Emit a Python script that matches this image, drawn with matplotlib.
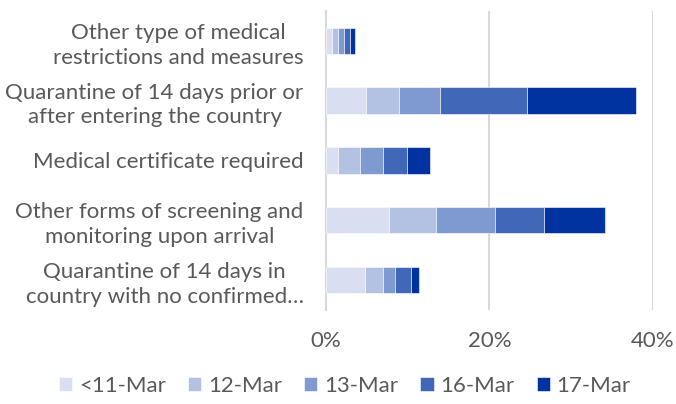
import matplotlib
matplotlib.use("Agg")
import matplotlib.pyplot as plt
import numpy as np

# Du lieu doc tu hinh (% so quoc gia)
categories = [
    "Other type of medical\nrestrictions and measures",
    "Quarantine of 14 days prior or\nafter entering the country",
    "Medical certificate required",
    "Other forms of screening and\nmonitoring upon arrival",
    "Quarantine of 14 days in\ncountry with no confirmed\u2026",
]
series_names = ["<11-Mar", "12-Mar", "13-Mar", "16-Mar", "17-Mar"]
v_11mar = [0.7, 4.9, 1.5, 7.7, 4.8]
v_12mar = [0.8, 4.1, 2.7, 5.8, 2.2]
v_13mar = [0.7, 4.9, 2.8, 7.2, 1.5]
v_16mar = [0.7, 10.7, 2.9, 6.0, 1.9]
v_17mar = [0.7, 13.3, 2.8, 7.4, 1.0]
colors = ["#D9DFF1", "#B3C2E3", "#7F9AD1", "#4067B8", "#0033A0"]

plt.rcParams["font.family"] = ["Lato", "DejaVu Sans"]
grey = "#595959"
fs = 16

fig = plt.figure(figsize=(6.76, 4.04), dpi=100)
ax = fig.add_axes([0.482, 0.233, 0.484, 0.740])

y = np.arange(len(categories))
left = np.zeros(len(categories))
for name, vals, col in zip(series_names,
                           [v_11mar, v_12mar, v_13mar, v_16mar, v_17mar], colors):
    ax.barh(y, vals, left=left, height=0.44, color=col, label=name,
            edgecolor="white", linewidth=0.4, zorder=3)
    left += np.array(vals)

ax.set_ylim(len(categories) - 0.5, -0.5)
ax.set_xlim(0, 40)
ax.set_xticks([0, 20, 40])
ax.set_xticklabels(["0%", "20%", "40%"])
ax.set_yticks(y)
ax.set_yticklabels(categories, ha="right", multialignment="center", linespacing=1.3)
ax.tick_params(axis="y", length=0, pad=16, labelsize=fs, labelcolor=grey)
ax.tick_params(axis="x", length=0, pad=15, labelsize=fs, labelcolor=grey)

for s in ["top", "right", "bottom"]:
    ax.spines[s].set_visible(False)
ax.spines["left"].set_color("#D9D9D9")
ax.spines["left"].set_linewidth(1.5)
ax.grid(axis="x", color="#D9D9D9", linewidth=1.5, zorder=0)
ax.set_axisbelow(True)

leg = fig.legend(loc="lower center", bbox_to_anchor=(0.51, -0.03), ncol=5,
                 frameon=False, fontsize=fs, handlelength=0.6, handleheight=0.6,
                 handletextpad=0.3, columnspacing=1.0, labelcolor=grey)

fig.savefig("out.png", dpi=100)
